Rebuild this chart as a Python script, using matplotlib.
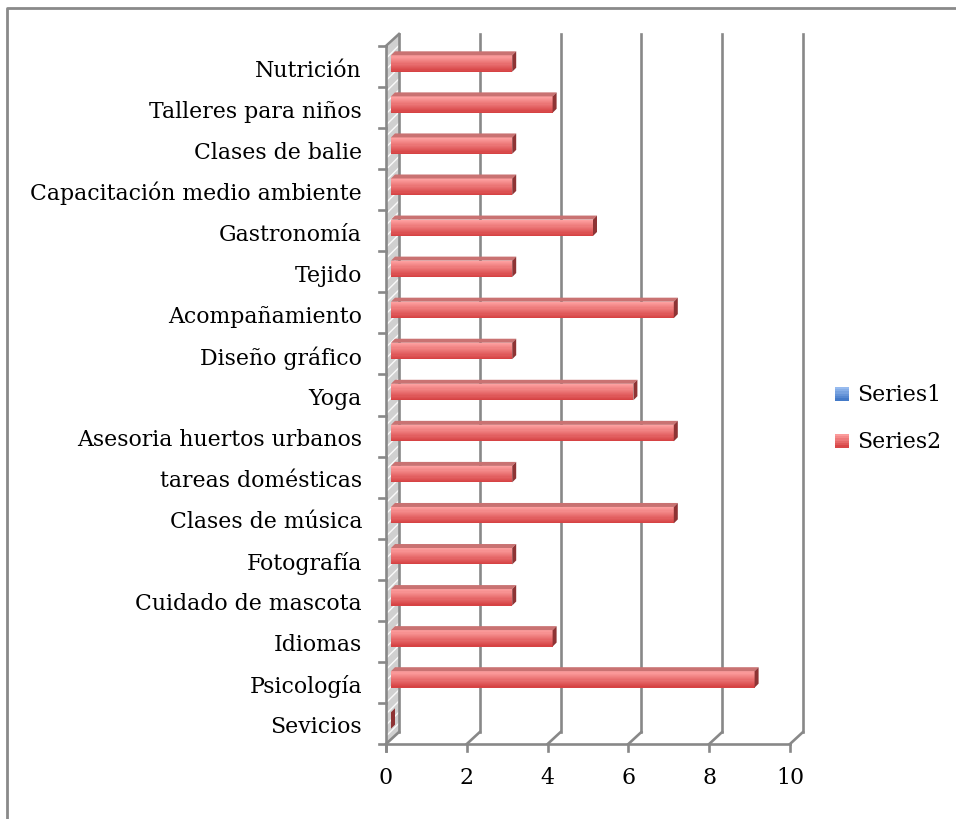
import matplotlib.pyplot as plt
import numpy as np
from matplotlib.patches import Polygon, Rectangle
from matplotlib.lines import Line2D
from matplotlib.colors import to_rgb

# datos (de abajo hacia arriba)
categorias = ['Sevicios', 'Psicología', 'Idiomas', 'Cuidado de mascota', 'Fotografía',
              'Clases de música', 'tareas domésticas', 'Asesoria huertos urbanos', 'Yoga',
              'Diseño gráfico', 'Acompañamiento', 'Tejido', 'Gastronomía',
              'Capacitación medio ambiente', 'Clases de balie', 'Talleres para niños', 'Nutrición']
series1 = [0] * 17
series2 = [0, 9, 4, 3, 3, 7, 3, 7, 6, 3, 7, 3, 5, 3, 3, 4, 3]
xticks = [0, 2, 4, 6, 8, 10]
series_names = ['Series1', 'Series2']

W, H = 956, 820
FONT = 'DejaVu Serif'
FS = 15.8
GRIS = '#888888'
LW = 1.9

fig = plt.figure(figsize=(W / 100, H / 100), dpi=100)
ax = fig.add_axes([386 / W, 75 / H, 404 / W, 698 / H])
ax.set_xlim(0, 10)
ax.set_ylim(-0.5, len(categorias) - 0.5)
ax.axis('off')

PX = 10 / 404          # unidades x por pixel
PY = len(categorias) / 698  # unidades y por pixel
ytop = len(categorias) - 0.5

# plano del fondo (offset 13px derecha, 12px arriba)
bx, by = 13 * PX, 12 * PY

# pared izquierda
wall = Polygon([(0, -0.5), (0, ytop), (bx, ytop + by), (bx, -0.5 + by)],
               closed=True, facecolor='#d0d0d0', edgecolor='#fafafa', hatch='///',
               linewidth=0, clip_on=False, zorder=1)
ax.add_patch(wall)
ax.plot([0, 0], [-0.5 - 7 * PY, ytop], color=GRIS, lw=LW, clip_on=False, zorder=2)
ax.plot([0, bx], [ytop, ytop + by], color=GRIS, lw=LW, clip_on=False, zorder=2)

# ticks de categorías
for k in range(len(categorias) + 1):
    ax.plot([-7 * PX, 0], [k - 0.5, k - 0.5], color=GRIS, lw=LW, clip_on=False, zorder=2)

# rejilla del fondo y del piso
for t in xticks:
    ax.plot([t + bx, t + bx], [-0.5 + by, ytop + by], color=GRIS, lw=LW, clip_on=False, zorder=1)
    ax.plot([t, t + bx], [-0.5, -0.5 + by], color=GRIS, lw=LW, clip_on=False, zorder=2)
    ax.plot([t, t], [-0.5, -0.5 - 7 * PY], color=GRIS, lw=LW, clip_on=False, zorder=2)
    ax.text(t, -0.5 - 33 * PY, str(t), ha='center', va='center',
            fontsize=FS, family=FONT, color='black')
ax.plot([0, 10], [-0.5, -0.5], color=GRIS, lw=LW, clip_on=False, zorder=2)

# barras 3D (plano medio: 5px derecha, 3px arriba)
mx, my = 5 * PX, 3 * PY
dx, dy = 4 * PX, 4 * PY
h = 0.40
c_top, c_bot = np.array(to_rgb('#ffa3a3')), np.array(to_rgb('#d43f40'))
n = 14
y = np.arange(len(categorias))
for j in range(n):
    f = (j + 0.5) / n
    col = c_top * (1 - f) + c_bot * f
    yc = y + my + h / 2 - (j + 0.5) * h / n
    ax.barh(yc, series2, height=h / n + 0.002, left=mx, color=col, linewidth=0, zorder=4)
ax.barh(y + my, series1, height=h, left=mx, color='#4f81bd', linewidth=0, zorder=3)

for i, v in enumerate(series2):
    y0 = i + my - h / 2
    y1 = i + my + h / 2
    x1 = mx + v
    if v > 0:
        ax.add_patch(Polygon([(mx, y1), (x1, y1), (x1 + dx, y1 + dy), (mx + dx, y1 + dy)],
                             closed=True, facecolor='#c97272', linewidth=0, zorder=4, clip_on=False))
    ax.add_patch(Polygon([(x1, y0), (x1, y1), (x1 + dx, y1 + dy), (x1 + dx, y0 + dy)],
                         closed=True, facecolor='#8e3334', linewidth=0, zorder=5, clip_on=False))

# etiquetas
for i, lab in enumerate(categorias):
    ax.text(-24 * PX, i - 3 * PY, lab, ha='right', va='center', fontsize=FS, family=FONT)

# leyenda
leg_cols = [('#9fc1f3', '#3c74c4'), ('#ffa3a3', '#d43f40')]
leg_y = [395, 442]
for name, (ct, cb), yy in zip(series_names, leg_cols, leg_y):
    ct, cb = np.array(to_rgb(ct)), np.array(to_rgb(cb))
    for j in range(6):
        f = (j + 0.5) / 6
        col = ct * (1 - f) + cb * f
        fig.add_artist(Rectangle((835 / W, (H - (yy - 7 + j * 14 / 6) - 14 / 6) / H),
                                 14 / W, (14 / 6 + 0.3) / H, transform=fig.transFigure,
                                 facecolor=col, linewidth=0))
    fig.text(857 / W, (H - yy) / H, name, ha='left', va='center', fontsize=FS, family=FONT)

# borde
fig.add_artist(Line2D([7 / W, 7 / W, 1], [0, 1 - 9 / H, 1 - 9 / H], color='#8a8a8a',
                      lw=2, transform=fig.transFigure))

fig.savefig('out.png', dpi=100, facecolor='white')
